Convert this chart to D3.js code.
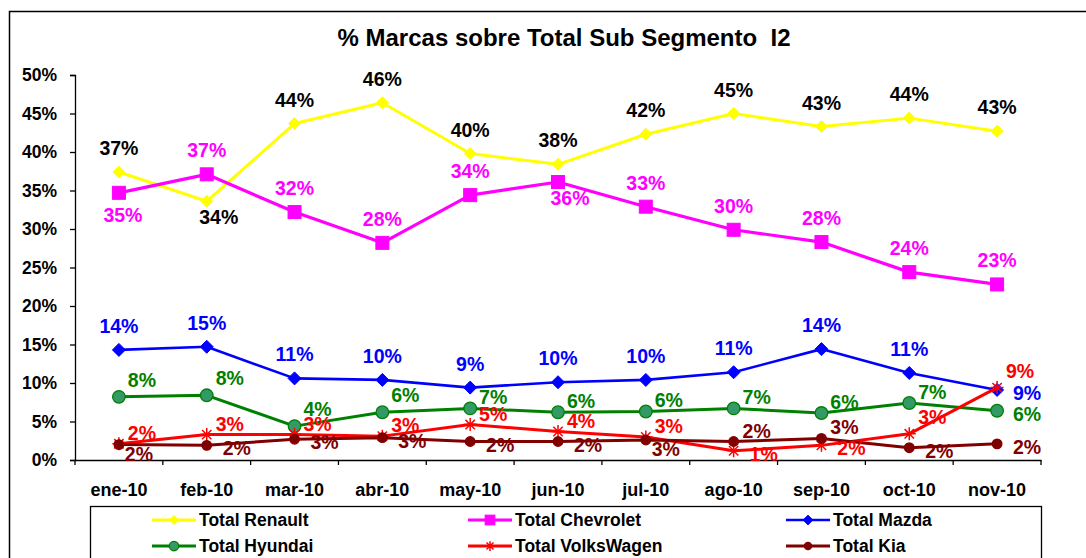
<!DOCTYPE html>
<html>
<head>
<meta charset="utf-8">
<script src="https://cdn.jsdelivr.net/npm/d3@7"></script>
<style>
  html, body { margin: 0; padding: 0; background: #fff; }
  svg { display: block; font-family: "Liberation Sans", Arial, sans-serif; }
</style>
</head>
<body>
<svg id="chart" width="1086" height="558"></svg>
<script>
// ---------- DATA ----------
const months = ["ene-10","feb-10","mar-10","abr-10","may-10","jun-10","jul-10","ago-10","sep-10","oct-10","nov-10"];
const yTicks = [0,5,10,15,20,25,30,35,40,45,50];

const renault   = [37.4, 33.6, 43.7, 46.4, 39.8, 38.4, 42.3, 45.0, 43.3, 44.4, 42.7];
const chevrolet = [34.7, 37.1, 32.2, 28.2, 34.4, 36.1, 32.9, 29.9, 28.3, 24.4, 22.8];
const mazda     = [14.3, 14.7, 10.6, 10.4, 9.4, 10.1, 10.4, 11.4, 14.4, 11.3, 9.1];
const hyundai   = [8.2, 8.4, 4.4, 6.2, 6.7, 6.2, 6.3, 6.7, 6.1, 7.4, 6.4];
const volkswagen= [2.1, 3.3, 3.3, 3.1, 4.6, 3.7, 3.0, 1.2, 1.9, 3.4, 9.4];
const kia       = [2.0, 1.9, 2.7, 2.9, 2.4, 2.4, 2.6, 2.4, 2.8, 1.6, 2.1];

// label placement codes per point
const renaultPos    = ["a","br","a","a","a","a","a","a","a","a","a"];
const chevroletPos  = ["b","a","a","a","a","br","a","a","a","a","a"];
const mazdaPos      = ["a","a","a","a","a","a","a","a","a","a","r"];
const hyundaiPos    = ["au","au","au","au","ar","ar","ar","ar","ar","ar","r"];
const volkswagenPos = ["ar","ar","ar","ar","ar","ar","ar","r","r","au","au"];
const kiaPos        = ["rb","r","r","r","r","r","rb","ar","ar","r","r"];

const seriesNames = ["Total Renault","Total Chevrolet","Total Mazda","Total Hyundai","Total VolksWagen","Total Kia"];

const series = [
  {name: seriesNames[0], values: renault,    pos: renaultPos,    color:"#FFFF00", label:"#000000", marker:"diamond", size:6,  fill:"#FFFF00", stroke:"#FFFF00", width:3},
  {name: seriesNames[1], values: chevrolet,  pos: chevroletPos,  color:"#FF00FF", label:"#FF00FF", marker:"square",  size:6.5,fill:"#FF00FF", stroke:"#FF00FF", width:3.2},
  {name: seriesNames[2], values: mazda,      pos: mazdaPos,      color:"#0000FF", label:"#0000FF", marker:"diamond", size:6.5,fill:"#0000FF", stroke:"#0000FF", width:2.6},
  {name: seriesNames[3], values: hyundai,    pos: hyundaiPos,    color:"#008000", label:"#008000", marker:"circle",  size:6.3,fill:"#339966", stroke:"#008000", width:3},
  {name: seriesNames[4], values: volkswagen, pos: volkswagenPos, color:"#FF0000", label:"#FF0000", marker:"star",    size:6.5,fill:"none",    stroke:"#FF0000", width:3},
  {name: seriesNames[5], values: kia,        pos: kiaPos,        color:"#800000", label:"#800000", marker:"circle",  size:4.8,fill:"#800000", stroke:"#800000", width:3}
];

// ---------- LAYOUT ----------
const svg = d3.select("#chart");
const plot = {left: 75, right: 1041, top: 75, bottom: 460};

const x = d3.scaleBand().domain(months).range([plot.left, plot.right]).paddingInner(0).paddingOuter(0);
const y = d3.scaleLinear().domain([0, 50]).range([plot.bottom, plot.top]);
const cx = m => x(m) + x.bandwidth() / 2;

// outer border
svg.append("rect").attr("x", 9.5).attr("y", 11.5).attr("width", 1100).attr("height", 600)
  .attr("fill", "none").attr("stroke", "#000").attr("stroke-width", 1.5);

// title
svg.append("text").attr("x", 564).attr("y", 46).attr("text-anchor", "middle")
  .attr("font-size", 24).attr("font-weight", "bold").attr("fill", "#000")
  .attr("xml:space", "preserve")
  .text("% Marcas sobre Total Sub Segmento  I2");

// y axis
const yAxis = d3.axisLeft(y).tickValues(yTicks).tickFormat(d => d + "%").tickSize(5).tickPadding(13);
const gy = svg.append("g").attr("transform", `translate(${plot.left},0)`).call(yAxis);
gy.select(".domain").attr("stroke", "#000").attr("stroke-width", 1.3);
gy.selectAll(".tick line").attr("stroke", "#000").attr("stroke-width", 1.3);
gy.selectAll(".tick text").attr("font-size", 17.5).attr("font-weight", "bold").attr("fill", "#000")
  .attr("font-family", "Liberation Sans, Arial, sans-serif");

// x axis
const xAxis = d3.axisBottom(x).tickSize(0).tickPadding(23);
const gx = svg.append("g").attr("transform", `translate(0,${plot.bottom})`).call(xAxis);
gx.select(".domain").attr("stroke", "#000").attr("stroke-width", 1.3);
gx.selectAll(".tick text").attr("font-size", 18).attr("font-weight", "bold").attr("fill", "#000")
  .attr("font-family", "Liberation Sans, Arial, sans-serif");
// boundary ticks
const bounds = months.map(m => x(m)).concat([plot.right]);
svg.append("g").selectAll("line").data(bounds).join("line")
  .attr("x1", d => d).attr("x2", d => d).attr("y1", plot.bottom).attr("y2", plot.bottom + 5)
  .attr("stroke", "#000").attr("stroke-width", 1.3);

// marker drawing
function drawMarker(g, type, s, fill, stroke) {
  if (type === "diamond") {
    g.append("path").attr("d", `M0,${-s}L${s},0L0,${s}L${-s},0Z`).attr("fill", fill).attr("stroke", stroke).attr("stroke-width", 1);
  } else if (type === "square") {
    g.append("rect").attr("x", -s).attr("y", -s).attr("width", 2*s).attr("height", 2*s).attr("fill", fill).attr("stroke", stroke).attr("stroke-width", 1);
  } else if (type === "circle") {
    g.append("circle").attr("r", s).attr("fill", fill).attr("stroke", stroke).attr("stroke-width", 1.3);
  } else if (type === "star") {
    const a = s * 0.72;
    g.append("path").attr("d", `M${-s},0L${s},0M0,${-s}L0,${s}M${-a},${-a}L${a},${a}M${-a},${a}L${a},${-a}`)
      .attr("stroke", stroke).attr("stroke-width", 1.5).attr("fill", "none");
  }
}

const place = {a:[0,-24], b:[4,22], br:[12,16], rb:[20,9], ar:[23,-11], au:[23,-17], r:[30,3]};

const line = d3.line().x((d, i) => cx(months[i])).y(d => y(d));

series.forEach(s => {
  const g = svg.append("g");
  g.append("path").datum(s.values).attr("d", line)
    .attr("fill", "none").attr("stroke", s.color).attr("stroke-width", s.width).attr("stroke-linejoin", "round");
  s.values.forEach((v, i) => {
    const mg = g.append("g").attr("transform", `translate(${cx(months[i])},${y(v)})`);
    drawMarker(mg, s.marker, s.size, s.fill, s.stroke);
  });
});

// data labels drawn after all lines
series.forEach(s => {
  svg.append("g").selectAll("text").data(s.values).join("text")
    .attr("x", (v, i) => cx(months[i]) + place[s.pos[i]][0])
    .attr("y", (v, i) => y(v) + place[s.pos[i]][1])
    .attr("text-anchor", "middle").attr("dominant-baseline", "central")
    .attr("font-size", 19.5).attr("font-weight", "bold").attr("fill", s.label)
    .text(v => Math.round(v) + "%");
});

// legend
const legend = svg.append("g");
legend.append("rect").attr("x", 90.5).attr("y", 506.5).attr("width", 951).attr("height", 80)
  .attr("fill", "#fff").attr("stroke", "#000").attr("stroke-width", 1.3);
const colX = [152, 468, 786];
const rowY = [520, 546];
series.forEach((s, k) => {
  const lx = colX[k % 3], ly = rowY[Math.floor(k / 3)];
  const lg = legend.append("g");
  lg.append("line").attr("x1", lx).attr("x2", lx + 44).attr("y1", ly).attr("y2", ly)
    .attr("stroke", s.color).attr("stroke-width", s.width);
  const mg = lg.append("g").attr("transform", `translate(${lx + 22},${ly})`);
  drawMarker(mg, s.marker, s.size * 0.75, s.fill, s.stroke);
  lg.append("text").attr("x", lx + 47).attr("y", ly).attr("dominant-baseline", "central")
    .attr("font-size", 17.5).attr("font-weight", "bold").attr("fill", "#000").text(s.name);
});
</script>
</body>
</html>
